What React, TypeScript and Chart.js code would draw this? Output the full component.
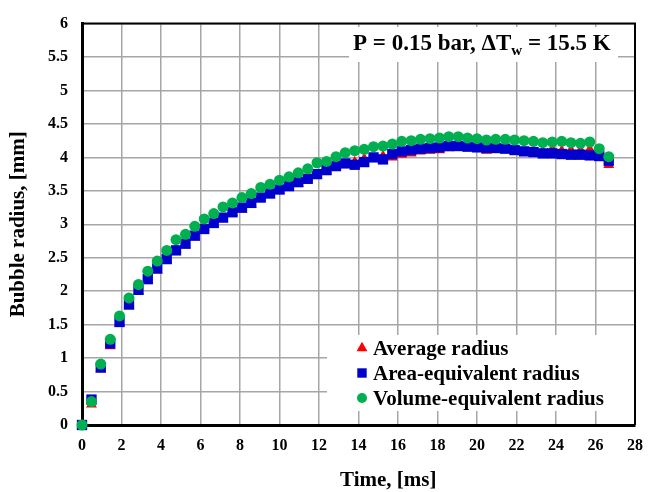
import React, { useEffect, useRef } from 'react';
import { Chart, registerables } from 'chart.js';

Chart.register(...registerables);

// ---- data ----
const timeMs = [
  0.0, 0.48, 0.95, 1.43, 1.9, 2.38, 2.86, 3.33, 3.81, 4.29,
  4.76, 5.24, 5.71, 6.19, 6.67, 7.14, 7.62, 8.1, 8.57, 9.05,
  9.52, 10.0, 10.48, 10.95, 11.43, 11.9, 12.38, 12.86, 13.33, 13.81,
  14.29, 14.76, 15.24, 15.71, 16.19, 16.67, 17.14, 17.62, 18.1, 18.57,
  19.05, 19.52, 20.0, 20.48, 20.95, 21.43, 21.9, 22.38, 22.86, 23.33,
  23.81, 24.29, 24.76, 25.24, 25.71, 26.19, 26.67,
];

const averageRadius = [
  0.0, 0.31, 0.83, 1.18, 1.52, 1.79, 2.0, 2.16, 2.31, 2.47,
  2.63, 2.69, 2.81, 2.95, 3.0, 3.08, 3.17, 3.22, 3.3, 3.42,
  3.44, 3.5, 3.55, 3.61, 3.7, 3.73, 3.79, 3.88, 3.89, 3.93,
  3.98, 3.98, 4.02, 4.0, 4.04, 4.06, 4.09, 4.1, 4.11, 4.14,
  4.15, 4.15, 4.13, 4.1, 4.13, 4.12, 4.1, 4.08, 4.09, 4.08,
  4.12, 4.1, 4.11, 4.11, 4.12, 4.05, 3.89,
];

const areaRadius = [
  0.0, 0.38, 0.86, 1.22, 1.54, 1.8, 2.02, 2.18, 2.34, 2.48,
  2.61, 2.71, 2.83, 2.93, 3.02, 3.1, 3.18, 3.25, 3.32, 3.4,
  3.46, 3.52, 3.57, 3.63, 3.68, 3.75, 3.81, 3.87, 3.91, 3.89,
  3.93, 4.0, 3.97, 4.05, 4.09, 4.11, 4.13, 4.14, 4.15, 4.17,
  4.17, 4.16, 4.15, 4.14, 4.14, 4.13, 4.11, 4.09, 4.08, 4.06,
  4.06, 4.05, 4.04, 4.04, 4.03, 4.02, 3.95,
];

const volumeRadius = [
  0.0, 0.35, 0.91, 1.28, 1.63, 1.9, 2.1, 2.3, 2.45, 2.61,
  2.77, 2.85, 2.97, 3.08, 3.16, 3.26, 3.32, 3.4, 3.46, 3.55,
  3.6, 3.66, 3.71, 3.77, 3.83, 3.92, 3.94, 4.01, 4.07, 4.1,
  4.12, 4.16, 4.17, 4.2, 4.24, 4.25, 4.27, 4.28, 4.29, 4.31,
  4.31, 4.29, 4.28, 4.26, 4.27, 4.27, 4.26, 4.25, 4.24, 4.22,
  4.23, 4.24, 4.22, 4.21, 4.23, 4.13, 4.01,
];

const seriesLabels = ['Average radius', 'Area-equivalent radius', 'Volume-equivalent radius'];
const seriesColors = ['#FF0000', '#0000CC', '#00B050'];
const xTitle = 'Time, [ms]';
const yTitle = 'Bubble radius, [mm]';
const noteMain = 'P = 0.15 bar, \u0394T';
const noteSub = 'w';
const noteTail = ' = 15.5 K';

const FONT = '"Liberation Serif", "Times New Roman", serif';

function drawMarker(ctx: CanvasRenderingContext2D, style: string, x: number, y: number, color: string) {
  ctx.fillStyle = color;
  ctx.beginPath();
  if (style === 'triangle') {
    const r = 6.3;
    ctx.moveTo(x, y - r);
    ctx.lineTo(x + r * 0.866, y + r * 0.5);
    ctx.lineTo(x - r * 0.866, y + r * 0.5);
    ctx.closePath();
  } else if (style === 'rect') {
    ctx.rect(x - 4.7, y - 4.7, 9.4, 9.4);
  } else {
    ctx.arc(x, y, 5, 0, Math.PI * 2);
  }
  ctx.fill();
}

const overlayPlugin = {
  id: 'overlay',
  beforeDatasetsDraw(chart: any) {
    const { ctx, chartArea } = chart;
    const { left, right, top, bottom } = chartArea;
    ctx.save();
    // white boxes (annotation + legend)
    ctx.fillStyle = '#ffffff';
    ctx.fillRect(349, 27, 269, 35);
    ctx.fillRect(327, 335, 314, 76);

    // frame top/right
    ctx.strokeStyle = '#000';
    ctx.lineWidth = 2;
    ctx.beginPath();
    ctx.moveTo(left, top);
    ctx.lineTo(right, top);
    ctx.lineTo(right, bottom);
    ctx.stroke();

    // annotation text
    ctx.fillStyle = '#000';
    ctx.textBaseline = 'alphabetic';
    ctx.textAlign = 'left';
    ctx.font = `bold 23px ${FONT}`;
    let x = 353;
    ctx.fillText(noteMain, x, 50);
    x += ctx.measureText(noteMain).width;
    ctx.font = `bold 15px ${FONT}`;
    ctx.fillText(noteSub, x, 55);
    x += ctx.measureText(noteSub).width;
    ctx.font = `bold 23px ${FONT}`;
    ctx.fillText(noteTail, x, 50);

    // legend
    const styles = ['triangle', 'rect', 'circle'];
    ctx.font = `bold 21px ${FONT}`;
    for (let i = 0; i < 3; i++) {
      const by = 355 + i * 25;
      drawMarker(ctx, styles[i], 362, by - 7, seriesColors[i]);
      ctx.fillStyle = '#000';
      ctx.fillText(seriesLabels[i], 373, by);
    }

    // axis titles
    ctx.font = `bold 21px ${FONT}`;
    ctx.fillText(xTitle, 340, 486);
    ctx.save();
    ctx.translate(24, (top + bottom) / 2);
    ctx.rotate(-Math.PI / 2);
    ctx.textAlign = 'center';
    ctx.fillText(yTitle, 0, 0);
    ctx.restore();
    ctx.restore();
  },
};

export default function App() {
  const ref = useRef<HTMLCanvasElement>(null);
  useEffect(() => {
    document.body.style.margin = '0';
    const toXY = (ys: number[]) => timeMs.map((t, i) => ({ x: t, y: ys[i] }));
    const tickFont = { family: FONT, size: 16, weight: 'bold' as const };
    const fmt = (v: any) => String(Number(Number(v).toFixed(2)));
    const chart = new Chart(ref.current as HTMLCanvasElement, {
      type: 'scatter',
      data: {
        datasets: [
          {
            label: seriesLabels[0],
            data: toXY(averageRadius),
            pointStyle: 'triangle',
            pointRadius: 6.3,
            backgroundColor: seriesColors[0],
            borderColor: seriesColors[0],
            borderWidth: 0,
            order: 3,
            clip: false as any,
          },
          {
            label: seriesLabels[1],
            data: toXY(areaRadius),
            pointStyle: 'rect',
            pointRadius: 7.3,
            backgroundColor: seriesColors[1],
            borderColor: seriesColors[1],
            borderWidth: 0,
            order: 2,
            clip: false as any,
          },
          {
            label: seriesLabels[2],
            data: toXY(volumeRadius),
            pointStyle: 'circle',
            pointRadius: 5.5,
            backgroundColor: seriesColors[2],
            borderColor: seriesColors[2],
            borderWidth: 0,
            order: 1,
            clip: false as any,
          },
        ],
      },
      options: {
        responsive: false,
        animation: false,
        devicePixelRatio: 1,
        events: [],
        layout: { padding: { left: 0, top: 15, right: 11, bottom: 0 } },
        plugins: { legend: { display: false }, tooltip: { enabled: false } },
        scales: {
          x: {
            type: 'linear',
            min: 0,
            max: 28,
            ticks: { stepSize: 2, padding: 11, font: tickFont, color: '#000', maxRotation: 0, callback: fmt },
            grid: { color: '#a6a6a6', lineWidth: 1.5, drawTicks: false },
            border: { color: '#000', width: 3 },
            afterFit(s: any) { s.height = 67; },
          },
          y: {
            type: 'linear',
            min: 0,
            max: 6,
            ticks: { stepSize: 0.5, padding: 14, font: tickFont, color: '#000', callback: fmt },
            grid: { color: '#a6a6a6', lineWidth: 1.5, drawTicks: false },
            border: { color: '#000', width: 3 },
            afterFit(s: any) { s.width = 82; },
          },
        },
      },
      plugins: [overlayPlugin],
    });
    return () => chart.destroy();
  }, []);
  return <canvas ref={ref} width={654} height={492} style={{ display: 'block' }} />;
}
